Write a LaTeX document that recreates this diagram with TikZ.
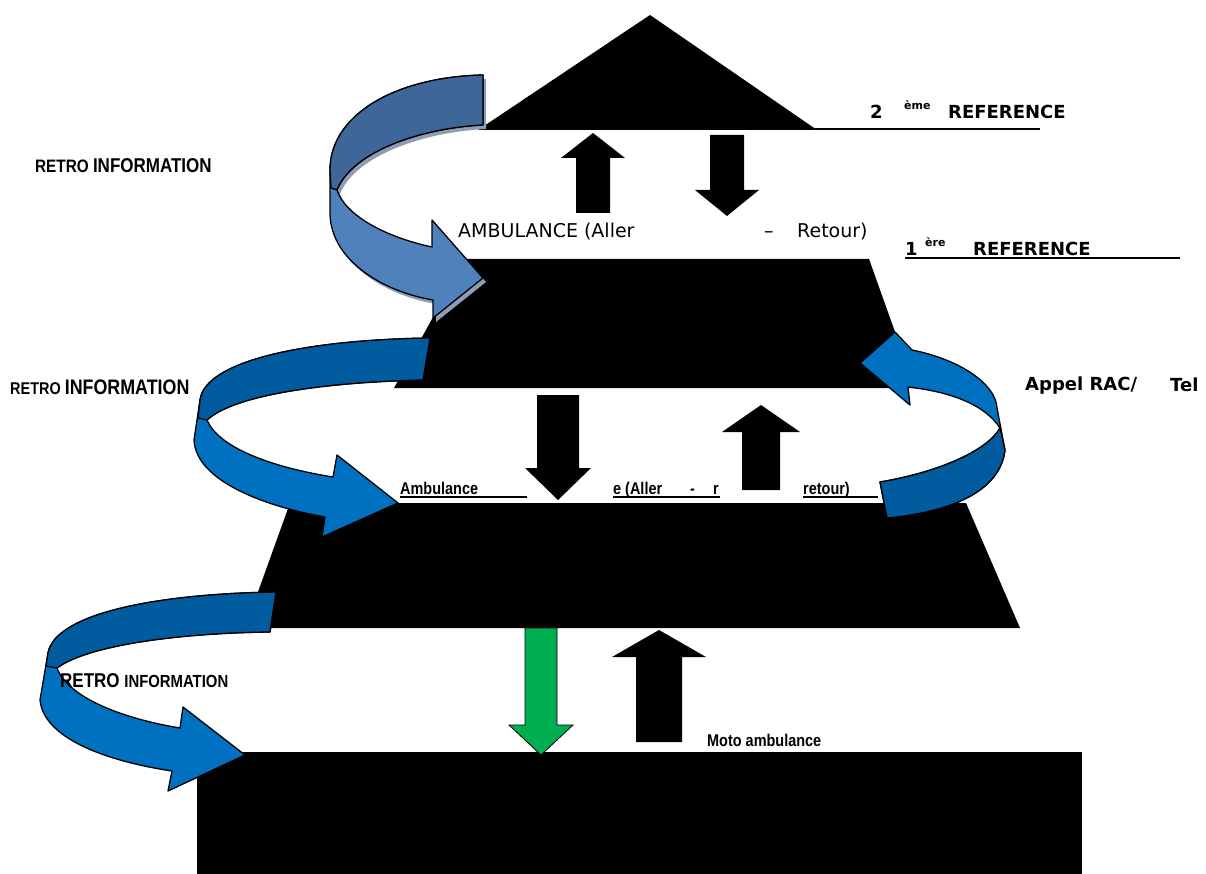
\documentclass[tikz,border=0pt]{standalone}
\usepackage{fontspec}
\setmainfont{DejaVu Sans}
\newfontfamily\narrowfont[FakeStretch=0.85]{Liberation Sans}
\usetikzlibrary{positioning}
\definecolor{steelLight}{HTML}{4F81BD}
\definecolor{steelDark}{HTML}{3E6699}
\definecolor{steelShade}{HTML}{8E9DB3}
\definecolor{azure}{HTML}{0070C0}
\definecolor{azureDark}{HTML}{005C9E}
\definecolor{grassGreen}{HTML}{00B050}

% block arrow: [style] {x} {tail y} {head base y} {tip y} {half shaft} {half head}
\newcommand{\blockarrow}[7][blocktip]{%
  \fill[#1] (#2-#6,#3) -- (#2+#6,#3) -- (#2+#6,#4) -- (#2+#7,#4)
    -- (#2,#5) -- (#2-#7,#4) -- (#2-#6,#4) -- cycle;}

\begin{document}
\begin{tikzpicture}[x=1pt,y=-1pt,
    level/.style={fill=black},
    blocktip/.style={fill=black},
    greentip/.style={fill=grassGreen,draw=black,line width=0.8pt},
    ribbon/.style={draw=black,line width=1.3pt,line join=round},
    rule/.style={line width=1.4pt},
    retro/.style={anchor=base west,inner sep=0pt,font=\narrowfont\bfseries},
    refer/.style={anchor=base west,inner sep=0pt,font=\fontsize{18}{20}\selectfont\bfseries},
    sup/.style={anchor=base west,inner sep=0pt,font=\fontsize{11}{12}\selectfont\bfseries},
    plain/.style={anchor=base west,inner sep=0pt,font=\fontsize{19}{22}\selectfont},
    small/.style={anchor=base west,inner sep=0pt,font=\narrowfont\fontsize{17}{19}\selectfont\bfseries}]
  \useasboundingbox (0,0) rectangle (1206,874);

  % the four levels of the pyramid
  \fill[level] (650,15) -- (817,130) -- (478,130) -- cycle;
  \fill[level] (465,259) -- (869,259) -- (915,388) -- (394,388) -- cycle;
  \fill[level] (290,503) -- (966,503) -- (1020,628) -- (245,628) -- cycle;
  \fill[level] (197,752) rectangle (1082,874);

  % transport arrows between levels
  \blockarrow{593}{213}{158}{133}{17}{32}
  \blockarrow{727}{135}{190}{216}{17}{32}
  \blockarrow{558}{395}{468}{500}{21}{33}
  \blockarrow{761}{490}{432}{405}{19}{39}
  \blockarrow[greentip]{541}{628}{725}{755}{16}{32}
  \blockarrow{659}{742}{657}{630}{23}{47}

  % feedback ribbons
  \fill[steelShade,shift={(3,4)}] (483,75) .. controls (395,77) and (330,115) .. (330,170)
    -- (330,215) .. controls (332,262) and (385,292) .. (433,300)
    -- (433,318) -- (483,278) -- (432,220) -- (432,247)
    .. controls (385,237) and (345,215) .. (337,190)
    .. controls (352,152) and (420,128) .. (483,125) -- cycle;
  \path[ribbon,fill=steelLight] (483,75) .. controls (395,77) and (330,115) .. (330,170)
    -- (330,215) .. controls (332,262) and (385,292) .. (433,300)
    -- (433,318) -- (483,278) -- (432,220) -- (432,247)
    .. controls (385,237) and (345,215) .. (337,190)
    .. controls (352,152) and (420,128) .. (483,125) -- cycle;
  \path[ribbon,fill=steelDark] (483,75) .. controls (395,77) and (330,115) .. (330,170)
    -- (331,188) -- (337,190)
    .. controls (352,152) and (420,128) .. (483,125) -- cycle;

  \path[ribbon,fill=azure] (430,338) .. controls (300,340) and (205,362) .. (200,400)
    -- (194,440) .. controls (196,482) and (268,507) .. (325,517)
    -- (322,537) -- (398,503) -- (337,455) -- (333,477)
    .. controls (270,467) and (218,447) .. (207,420)
    .. controls (235,394) and (330,382) .. (423,380) -- cycle;
  \path[ribbon,fill=azureDark] (430,338) .. controls (300,340) and (205,362) .. (200,400)
    -- (198,418) -- (207,420)
    .. controls (235,394) and (330,382) .. (423,380) -- cycle;

  \path[ribbon,fill=azure] (276,592) .. controls (150,594) and (55,615) .. (48,653)
    -- (40,700) .. controls (44,742) and (118,763) .. (172,771)
    -- (168,791) -- (245,755) -- (183,707) -- (180,728)
    .. controls (120,718) and (68,697) .. (57,668)
    .. controls (88,645) and (180,633) .. (270,632) -- cycle;
  \path[ribbon,fill=azureDark] (276,592) .. controls (150,594) and (55,615) .. (48,653)
    -- (46,666) -- (57,668)
    .. controls (88,645) and (180,633) .. (270,632) -- cycle;

  \path[ribbon,fill=azure] (880,482) .. controls (940,472) and (988,450) .. (1000,428)
    .. controls (985,405) and (952,392) .. (908,387)
    -- (910,405) -- (860,363) -- (895,332) -- (912,350)
    .. controls (962,360) and (996,385) .. (997,408)
    -- (1005,450) .. controls (1000,492) and (950,512) .. (887,518) -- cycle;
  \path[ribbon,fill=azureDark] (880,482) .. controls (940,472) and (988,450) .. (1000,428)
    -- (1005,450) .. controls (1000,492) and (950,512) .. (887,518) -- cycle;

  % labels
  \node (retroTop) [retro] at (35,173) {\fontsize{18}{20}\selectfont RETRO \fontsize{20}{22}\selectfont INFORMATION};
  \node (retroMid) [retro] at (10,394) {\fontsize{17}{20}\selectfont RETRO \fontsize{21}{22}\selectfont INFORMATION};
  \node (retroLow) [retro] at (60,687) {\fontsize{20}{22}\selectfont RETRO \fontsize{17.5}{19}\selectfont INFORMATION};

  \node (twoNum) [refer] at (870,119) {2};
  \node (twoSup) [sup] at (904,110) {ème};
  \node (twoRef) [refer] at (948,119) {REFERENCE};
  \coordinate (twoRuleA) at (815,129);
  \coordinate (twoRuleB) at (1040,129);
  \draw[rule] (twoRuleA) -- (twoRuleB);

  \node (oneNum) [refer] at (905,256) {1};
  \node (oneSup) [sup] at (925,247) {ère};
  \node (oneRef) [refer] at (973,256) {REFERENCE};
  \coordinate (oneRuleA) at (905,258);
  \coordinate (oneRuleB) at (1180,258);
  \draw[rule] (oneRuleA) -- (oneRuleB);

  \node (ambTop) [plain] at (458,238) {AMBULANCE (Aller};
  \node (ambDash) [plain] at (764,238) {–};
  \node (ambBack) [plain] at (797,238) {Retour)};

  \node (appel) [refer] at (1025,390) {Appel RAC/};
  \node (tel) [refer] at (1170,391) {Tel};

  \node (ambMid) [small] at (400,494) {Ambulance};
  \node (ambGo) [small] at (613,494) {e (Aller};
  \node (ambSep) [small] at (690,494) {-};
  \node (ambR) [small] at (713,494) {r};
  \node (ambRet) [small] at (803,494) {retour)};
  \draw[line width=1.2pt] (400,497) -- (527,497);
  \draw[line width=1.2pt] (613,497) -- (720,497);
  \draw[line width=1.2pt] (803,497) -- (878,497);

  \node (moto) [small] at (707,746) {Moto ambulance};
\end{tikzpicture}
\end{document}
